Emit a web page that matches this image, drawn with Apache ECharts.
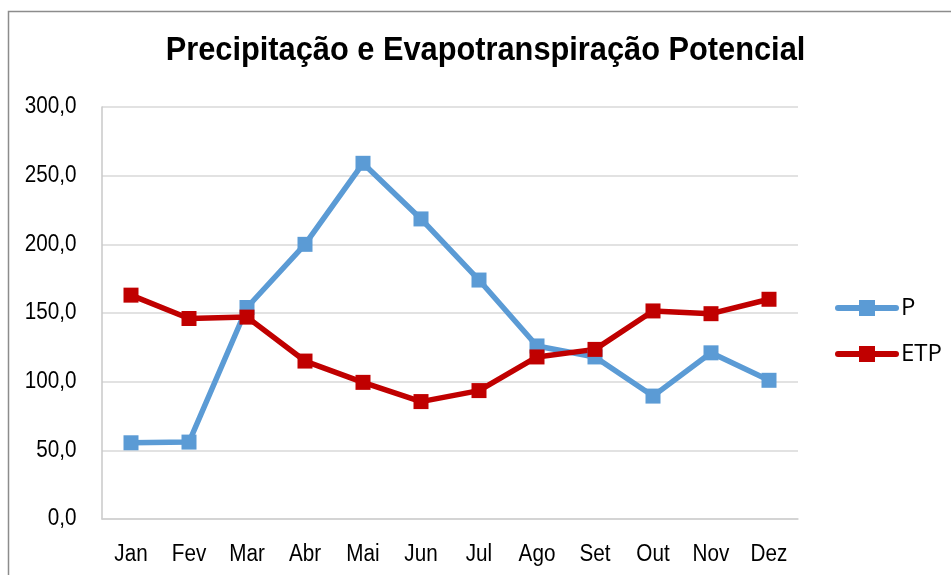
<!DOCTYPE html>
<html>
<head>
<meta charset="utf-8">
<script src="https://cdn.jsdelivr.net/npm/echarts@6/dist/echarts.min.js"></script>
<style>
  html, body { margin: 0; padding: 0; background: #fff; }
  #chart { width: 951px; height: 575px; }
</style>
</head>
<body>
<div id="chart"></div>
<script>
// Monthly precipitation (P) and potential evapotranspiration (ETP), mm
const months = ['Jan', 'Fev', 'Mar', 'Abr', 'Mai', 'Jun', 'Jul', 'Ago', 'Set', 'Out', 'Nov', 'Dez'];
const precip = [55.5, 56.0, 154.0, 200.0, 259.0, 218.5, 174.0, 126.0, 118.0, 89.5, 121.0, 101.0];
const etp = [163.0, 146.0, 147.0, 115.0, 99.5, 85.5, 93.5, 118.0, 123.5, 151.5, 149.5, 160.0];
const yTickValues = [0, 50, 100, 150, 200, 250, 300];

const titleText = 'Precipitação e Evapotranspiração Potencial';
const sans = '"Liberation Sans", Arial, sans-serif';
// condensed look: regular sans text squeezed horizontally
const labelFont = '23.5px ' + sans;
const labelSqueeze = 0.88;

const chart = echarts.init(document.getElementById('chart'));

chart.setOption({
  animation: false,
  backgroundColor: '#ffffff',
  grid: { left: 102, right: 153, top: 107, bottom: 56 },
  legend: {
    orient: 'vertical',
    left: 835,
    top: 296,
    padding: 0,
    itemGap: 22,
    itemWidth: 58,
    itemHeight: 20,
    lineStyle: { width: 6, cap: 'round' },
    textStyle: { fontFamily: '"Open Sans", "Noto Sans", sans-serif', fontSize: 24, color: '#000', lineHeight: 24 },
    data: ['P', 'ETP']
  },
  xAxis: {
    type: 'category',
    data: months,
    boundaryGap: true,
    axisLine: { lineStyle: { color: '#d0d0d0', width: 1.5 } },
    axisTick: { show: false },
    axisLabel: { show: false }
  },
  yAxis: {
    type: 'value',
    min: yTickValues[0],
    max: yTickValues[yTickValues.length - 1],
    interval: yTickValues[1] - yTickValues[0],
    axisLine: { show: true, lineStyle: { color: '#c8c8c8', width: 1.5 } },
    axisTick: { show: false },
    splitLine: { lineStyle: { color: '#d9d9d9', width: 1.5 } },
    axisLabel: { show: false }
  },
  series: [
    {
      name: 'P',
      type: 'line',
      data: precip,
      symbol: 'rect',
      symbolSize: 15,
      lineStyle: { color: '#5b9bd5', width: 5.5, cap: 'round' },
      itemStyle: { color: '#5b9bd5' }
    },
    {
      name: 'ETP',
      type: 'line',
      data: etp,
      symbol: 'rect',
      symbolSize: 15,
      lineStyle: { color: '#c00000', width: 5.5, cap: 'round' },
      itemStyle: { color: '#c00000' }
    }
  ]
});

// Axis labels and title as condensed text, placed through the chart's own axes
const fmt = v => v.toFixed(1).replace('.', ',');
const labels = [];

yTickValues.forEach(v => {
  const y = chart.convertToPixel({ yAxisIndex: 0 }, v);
  labels.push({
    type: 'text', x: 76.5, y: y, scaleX: labelSqueeze, silent: true,
    style: { text: fmt(v), font: labelFont, fill: '#000', textAlign: 'right', textVerticalAlign: 'middle' }
  });
});

months.forEach(m => {
  const x = chart.convertToPixel({ xAxisIndex: 0 }, m);
  labels.push({
    type: 'text', x: x, y: 555, scaleX: labelSqueeze, silent: true,
    style: { text: m, font: labelFont, fill: '#000', textAlign: 'center', textVerticalAlign: 'middle' }
  });
});

chart.setOption({
  graphic: [
    {
      type: 'rect', silent: true,
      shape: { x: 8.5, y: 11.5, width: 1000, height: 1000 },
      style: { fill: 'none', stroke: '#8c8c8c', lineWidth: 1.5 }
    },
    {
      type: 'text', x: 485.5, y: 51, scaleX: 0.905, silent: true,
      style: { text: titleText, font: 'bold 34px ' + sans, fill: '#000', textAlign: 'center', textVerticalAlign: 'middle' }
    }
  ].concat(labels)
});
</script>
</body>
</html>
